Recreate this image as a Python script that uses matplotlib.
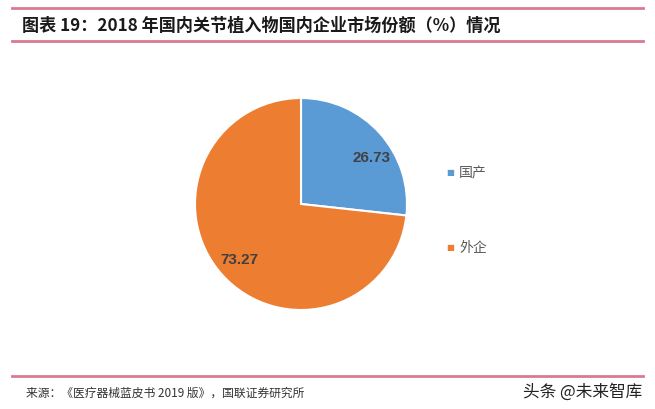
import matplotlib.pyplot as plt
from matplotlib.lines import Line2D

labels = ['国产', '外企']
shares = [26.73, 73.27]
colors = ['#5B9BD5', '#ED7D31']

title = '图表 19：2018 年国内关节植入物国内企业市场份额（%）情况'
source = '来源：《医疗器械蓝皮书 2019 版》，国联证券研究所'
mark = '头条 @未来智库'

plt.rcParams['font.family'] = ['Noto Sans CJK SC', 'DejaVu Sans']

W, H = 655, 410
fig = plt.figure(figsize=(W / 100, H / 100), dpi=100)

def px(x, y):
    return x / W, 1 - y / H

# header / footer lines
line_col = '#D97B8F'
for y in (9, 42, 377):
    x0, yy = px(12, y)
    x1, _ = px(643, y)
    fig.add_artist(Line2D([x0, x1], [yy, yy], color=line_col, lw=2))

fig.text(*px(22, 26), title, fontsize=12.3, fontweight='bold', fontstyle='italic',
         va='center', ha='left', color='#1a1a1a')
fig.text(*px(26, 393), source, fontsize=8.5, va='center', ha='left', color='#333333')
fig.text(*px(642, 392), mark, fontsize=12, va='center', ha='right', color='#222222')

# pie
cx, cy, r = 301, 205, 106
ax = fig.add_axes([(cx - r) / W, 1 - (cy + r) / H, 2 * r / W, 2 * r / H])
wedges, _, autotexts = ax.pie(shares, colors=colors, startangle=90, counterclock=False,
                              autopct=lambda p: f'{p:.2f}', pctdistance=0.78,
                              wedgeprops=dict(edgecolor='white', linewidth=1.5))
for t in autotexts:
    t.set_fontfamily('Liberation Sans')
    t.set_fontweight('bold')
    t.set_fontsize(11)
    t.set_color('#404040')
# nudge the small-slice label a bit, as in the source chart
x, y = autotexts[0].get_position()
autotexts[0].set_position((x + 0.08, y - 0.08))
ax.set_xlim(-1, 1)
ax.set_ylim(-1, 1)

# legend
for lab, col, y in zip(labels, colors, (173, 248)):
    fig.text(*px(446, y), '■', fontsize=6, color=col, va='center', ha='left',
             family=['DejaVu Sans'])
    fig.text(*px(459, y), lab, fontsize=10, color='#595959', va='center', ha='left')

fig.savefig('out.png', dpi=100, facecolor='white')
